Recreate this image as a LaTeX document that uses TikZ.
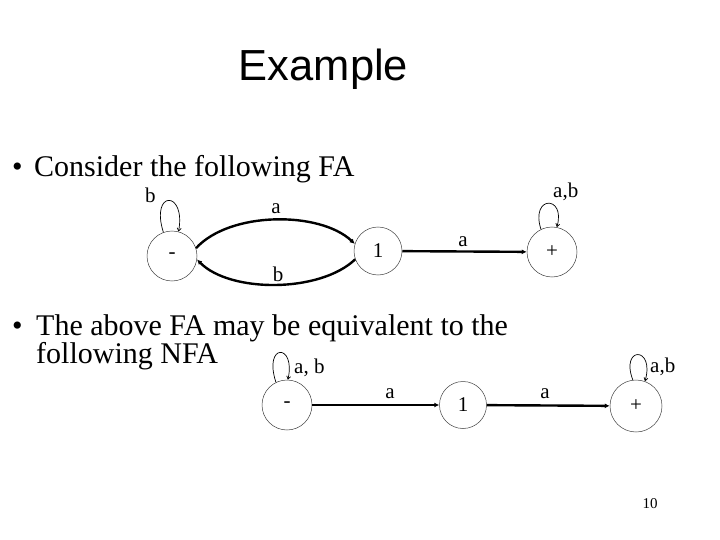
\documentclass[tikz,border=0pt]{standalone}
\usepackage{fontspec}
\setmainfont{Liberation Serif}
\newfontfamily\titlefont{Liberation Sans}
\usetikzlibrary{arrows.meta}
\begin{document}
\begin{tikzpicture}[x=1pt,y=-1pt,
  state/.style={circle,draw=black!75,line width=0.5pt,inner sep=0pt,font=\fontsize{21}{21}\selectfont},
  edge/.style={line width=2.4pt,-{Latex[length=5pt,width=5pt]}},
  loopedge/.style={line width=0.7pt,-{Straight Barb[length=3pt,width=4pt]}},
  lbl/.style={font=\fontsize{21}{21}\selectfont,inner sep=0pt},
  txt/.style={font=\fontsize{30}{30}\selectfont,anchor=base west,inner sep=0pt}]
\useasboundingbox (0,0) rectangle (720,540);
% title and text
\node[font=\titlefont\fontsize{43.5}{43.5}\selectfont,anchor=base,inner sep=0pt] (title) at (323.5,81) {Example};
\node[txt] (bul1) at (12,177) {\textbullet};
\node[txt] (line1) at (34,177) {Consider the following FA};
\node[txt] (bul2) at (12,335) {\textbullet};
\node[txt] (line2) at (36,335) {The above FA may be equivalent to the};
\node[txt] (line3) at (36,363) {following NFA};
\node[font=\fontsize{15}{15}\selectfont,anchor=base,inner sep=0pt] (pg) at (650,508) {10};
% top FA
\node[state,minimum size=50pt] (s1) at (172,256) {-};
\node[state,minimum size=48pt] (t1) at (378,251) {1};
\node[state,minimum size=50pt] (p1) at (552,252) {+};
\draw[edge] (s1.18) .. controls (230,211) and (320,211) .. (t1.163);
\draw[edge] (t1.200) .. controls (320,293) and (230,293) .. (s1.-8);
\draw[edge] (t1) -- (p1);
\draw[loopedge] (s1.110) .. controls (150,190) and (186,190) .. (s1.75);
\draw[loopedge] (p1.116) .. controls (530,195) and (566,195) .. (p1.79);
\node[lbl,anchor=base west] (lb1) at (145,203) {b};
\node[lbl,anchor=base] (la1) at (276,214) {a};
\node[lbl,anchor=base] (lb2) at (278,281) {b};
\node[lbl,anchor=base] (la2) at (463,247) {a};
\node[lbl,anchor=base west] (lab1) at (553,198) {a,b};
% bottom NFA
\node[state,minimum size=50pt] (s2) at (287,405) {-};
\node[state,minimum size=47pt] (t2) at (463,405) {1};
\node[state,minimum size=52pt] (p2) at (636,406) {+};
\draw[edge] (s2) -- (t2);
\draw[edge] (t2) -- (p2);
\draw[loopedge] (s2.116) .. controls (263,343) and (296,343) .. (s2.88);
\draw[loopedge] (p2.97) .. controls (620,346) and (655,346) .. (p2.70);
\node[lbl,anchor=base west] (lab2) at (294,373) {a, b};
\node[lbl,anchor=base] (la3) at (390,398) {a};
\node[lbl,anchor=base] (la4) at (545,398) {a};
\node[lbl,anchor=base west] (lab3) at (650,372) {a,b};
\end{tikzpicture}
\end{document}
